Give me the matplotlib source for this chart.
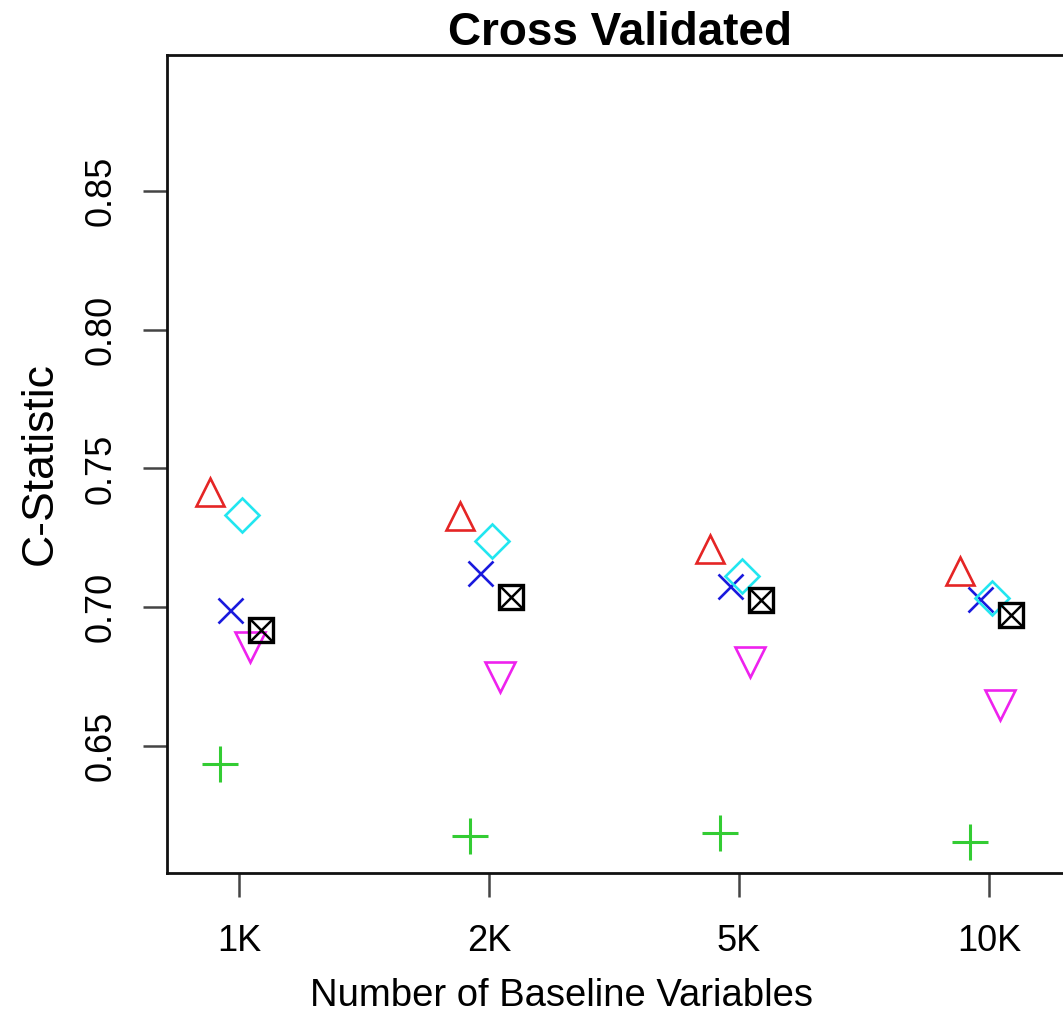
import numpy as np
import matplotlib
matplotlib.use("Agg")
import matplotlib.pyplot as plt

plt.rcParams["font.family"] = ["Liberation Sans", "DejaVu Sans"]

# number of baseline variables
groups = ["1K", "2K", "5K", "10K"]

# C-statistic per method
tri_up = [0.7414, 0.7327, 0.7208, 0.7131]
plus = [0.6435, 0.6176, 0.6186, 0.6155]
cross = [0.6990, 0.7122, 0.7075, 0.7028]
diamond = [0.7332, 0.7237, 0.7114, 0.7032]
tri_down = [0.6857, 0.6750, 0.6803, 0.6648]
box_x = [0.6916, 0.7035, 0.7026, 0.6972]

W, H = 1063, 1015
fig = plt.figure(figsize=(W / 100, H / 100), dpi=100)
ax = fig.add_axes([167 / W, (H - 873) / H, (1070 - 167) / W, (873 - 55) / H])

x = np.arange(1, len(groups) + 1)
mew = 1.9

ax.plot(x - 0.115, tri_up, ls="none", marker="^", ms=20, mfc="none",
        mec="#E52525", mew=mew)
ax.plot(x - 0.075, plus, ls="none", marker="+", ms=26,
        mec="#33CC33", mew=2.2)
ax.plot(x - 0.035, cross, ls="none", marker="x", ms=18,
        mec="#1A1ADD", mew=mew)
ax.plot(x + 0.01, diamond, ls="none", marker="D", ms=17, mfc="none",
        mec="#22E6F0", mew=mew)
ax.plot(x + 0.045, tri_down, ls="none", marker="v", ms=21, mfc="none",
        mec="#EE22EE", mew=mew)
ax.plot(x + 0.087, box_x, ls="none", marker="s", ms=17, mfc="none",
        mec="black", mew=2.4)
ax.plot(x + 0.087, box_x, ls="none", marker="x", ms=17,
        mec="black", mew=1.8)

ax.set_xlim(0.712, 1 + (1070 - 239) / 250)
ax.set_ylim(0.6042, 0.899)

ax.set_xticks(x)
ax.set_xticklabels(groups)
ax.set_yticks([0.65, 0.70, 0.75, 0.80, 0.85])
ax.set_yticklabels(["0.65", "0.70", "0.75", "0.80", "0.85"])

ax.tick_params(axis="both", direction="out", length=17, width=1.8,
               labelsize=26, color="#444444")
ax.tick_params(axis="x", pad=20)
ax.tick_params(axis="y", pad=18)
for lab in ax.get_yticklabels():
    lab.set_rotation(90)
    lab.set_va("center")

for sp in ax.spines.values():
    sp.set_linewidth(2.0)
    sp.set_color("#111111")

ax.set_title("Cross Validated", fontsize=33, fontweight="bold",
             x=(620 - 167) / 903, pad=2.5)
ax.set_xlabel("Number of Baseline Variables", fontsize=27.5)
ax.xaxis.set_label_coords(0.437, -0.128)
ax.set_ylabel("C-Statistic", fontsize=32)
ax.yaxis.set_label_coords(-0.118, 0.5)

fig.savefig("out.png", dpi=100)
